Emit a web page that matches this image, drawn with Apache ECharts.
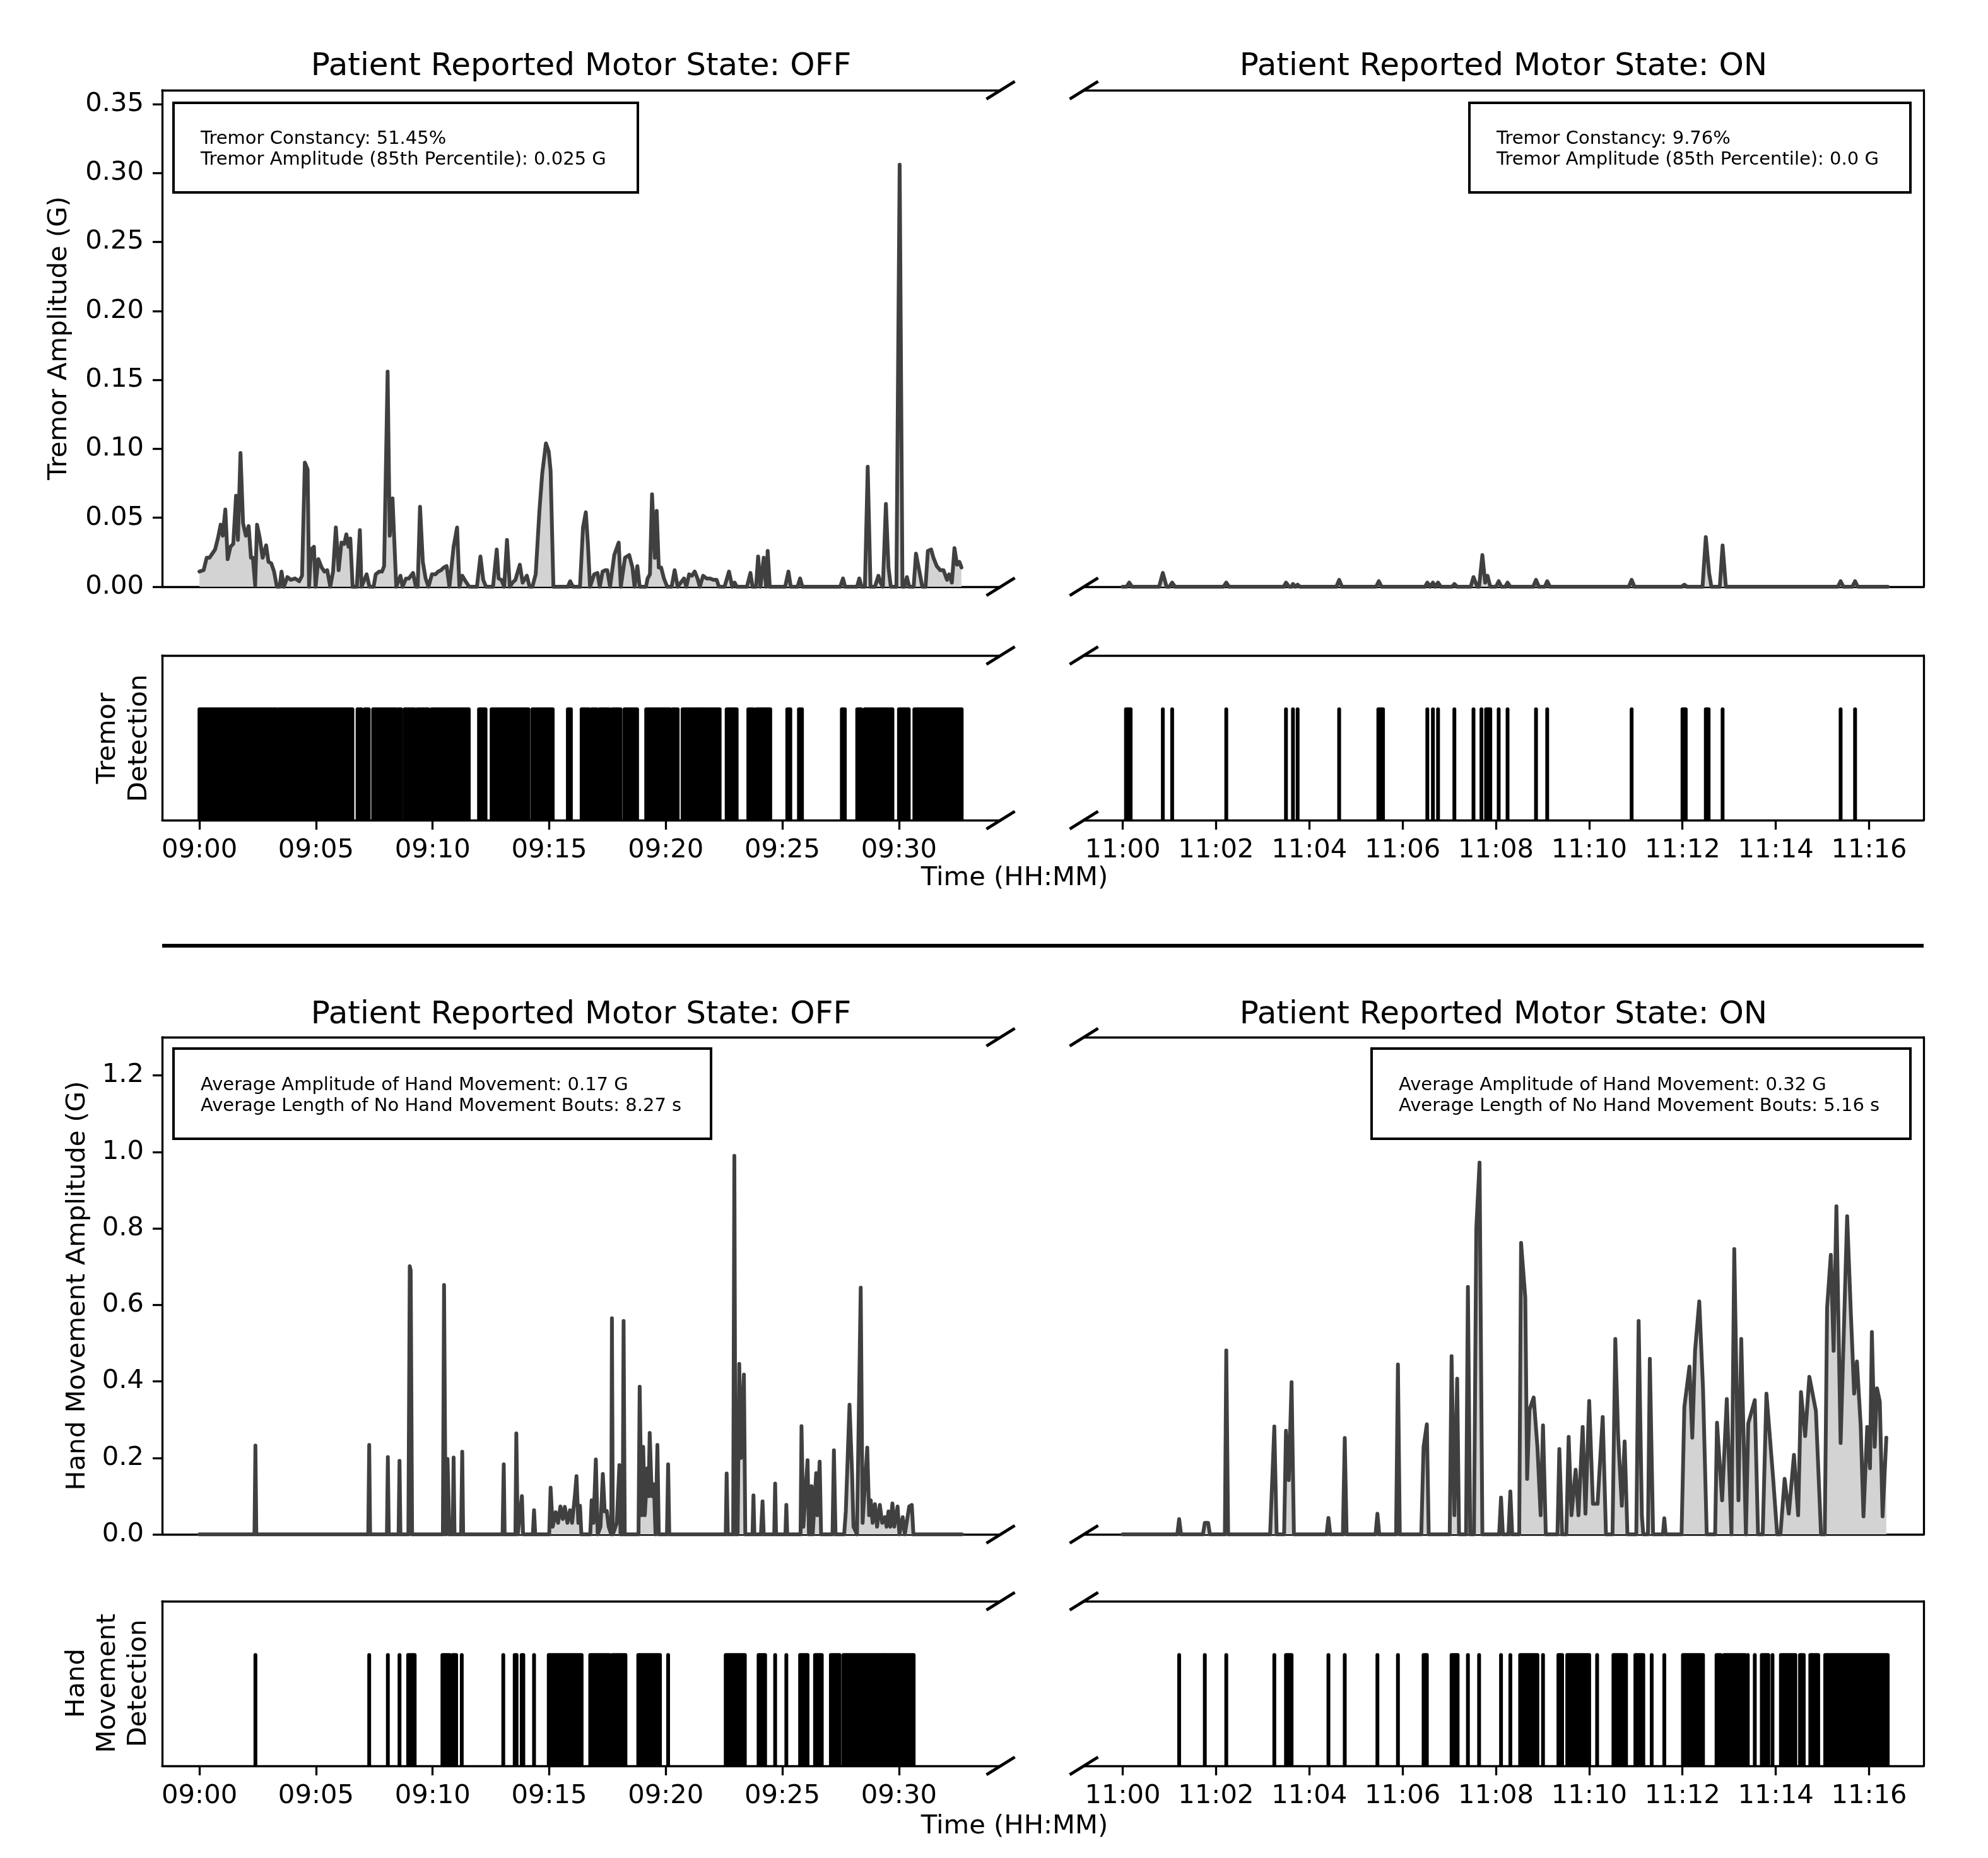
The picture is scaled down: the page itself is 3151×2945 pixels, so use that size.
<!DOCTYPE html>
<html><head><meta charset="utf-8">
<script src="https://cdn.jsdelivr.net/npm/echarts@6/dist/echarts.min.js"></script>
<style>html,body{margin:0;padding:0;background:#fff}#c{width:3151px;height:2945px}</style>
</head><body><div id="c"></div>
<script>
// ---------------- DATA ----------------
const offStart = '09:00';
const onStart = '11:00';
const offTicks = ['09:00','09:05','09:10','09:15','09:20','09:25','09:30'];
const onTicks = ['11:00','11:02','11:04','11:06','11:08','11:10','11:12','11:14','11:16'];
const tremorYTicks = ['0.00','0.05','0.10','0.15','0.20','0.25','0.30','0.35'];
const handYTicks = ['0.0','0.2','0.4','0.6','0.8','1.0','1.2'];
// tremor amplitude, OFF state: [minutes after 09:00, G]
const tremorOff = [
[0.00,0.011],[0.18,0.012],[0.31,0.021],[0.43,0.021],[0.55,0.024],[0.67,0.027],[0.79,0.035],[0.91,0.045],[1.00,0.037],[1.11,0.056],[1.21,0.020],[1.33,0.029],[1.45,0.031],[1.57,0.066],[1.65,0.034],[1.76,0.097],[1.87,0.046],[1.99,0.037],[2.11,0.044],[2.21,0.021],[2.29,0.021],[2.39,0.001],[2.47,0.045],[2.59,0.035],[2.71,0.021],[2.86,0.030],[2.96,0.018],[3.08,0.017],[3.20,0.011],[3.32,0],[3.44,0],[3.52,0.011],[3.62,0],[3.77,0.007],[3.92,0.005],[4.10,0.006],[4.28,0.004],[4.40,0.008],[4.52,0.090],[4.64,0.085],[4.70,0],[4.79,0.027],[4.91,0.029],[4.98,0],[5.10,0.020],[5.24,0.014],[5.36,0.011],[5.48,0.012],[5.61,0],[5.73,0.011],[5.85,0.043],[5.97,0.012],[6.09,0.032],[6.21,0.031],[6.30,0.038],[6.39,0.029],[6.47,0.035],[6.57,0],[6.75,0],[6.88,0.041],[6.95,0],[7.17,0.009],[7.29,0],[7.47,0],[7.56,0.009],[7.71,0.011],[7.83,0.011],[7.92,0.015],[8.07,0.156],[8.16,0.037],[8.28,0.064],[8.44,0],[8.62,0.008],[8.71,0],[8.86,0.006],[8.98,0.006],[9.16,0.010],[9.28,0],[9.36,0],[9.46,0.058],[9.58,0.018],[9.70,0.006],[9.82,0],[9.97,0.009],[10.12,0.009],[10.24,0.011],[10.36,0.012],[10.48,0.014],[10.60,0.015],[10.72,0],[10.90,0.029],[11.05,0.043],[11.15,0],[11.27,0.008],[11.45,0.003],[11.57,0],[11.90,0],[12.05,0.022],[12.17,0.005],[12.29,0],[12.59,0],[12.75,0.027],[12.83,0.006],[12.95,0.005],[13.07,0],[13.19,0.034],[13.31,0],[13.43,0.003],[13.55,0.005],[13.74,0.016],[13.86,0.003],[14.04,0.008],[14.16,0],[14.28,0],[14.42,0.009],[14.58,0.055],[14.70,0.082],[14.86,0.104],[14.98,0.098],[15.06,0.084],[15.18,0],[15.80,0],[15.90,0.004],[16.02,0],[16.32,0],[16.45,0.043],[16.57,0.054],[16.66,0.031],[16.75,0],[16.93,0.009],[17.07,0.010],[17.17,0],[17.29,0.011],[17.41,0.012],[17.49,0.012],[17.61,0],[17.79,0.023],[17.98,0.032],[18.07,0],[18.25,0.021],[18.43,0.023],[18.57,0.014],[18.66,0],[18.78,0.015],[18.88,0],[19.15,0],[19.22,0.006],[19.32,0.009],[19.41,0.067],[19.53,0.021],[19.61,0.055],[19.70,0.014],[19.80,0.014],[19.92,0.006],[20.06,0],[20.25,0],[20.38,0.012],[20.51,0],[20.78,0.006],[20.88,0],[21.00,0.009],[21.12,0.008],[21.24,0.011],[21.36,0.006],[21.46,0],[21.60,0.008],[21.75,0.006],[21.89,0.006],[22.04,0.005],[22.18,0.005],[22.28,0],[22.52,0],[22.71,0.011],[22.85,0],[22.95,0.003],[23.05,0],[23.48,0],[23.63,0.010],[23.72,0],[23.87,0],[23.96,0.022],[24.06,0],[24.20,0.021],[24.30,0],[24.37,0.026],[24.46,0],[25.12,0],[25.26,0.011],[25.36,0],[25.65,0],[25.76,0.006],[25.86,0],[27.48,0],[27.60,0.006],[27.69,0],[28.20,0],[28.30,0.006],[28.40,0],[28.54,0],[28.66,0.087],[28.78,0],[28.97,0],[29.12,0.008],[29.21,0.003],[29.31,0],[29.44,0.060],[29.55,0.014],[29.65,0],[29.89,0],[30.03,0.306],[30.15,0],[30.23,0],[30.34,0.007],[30.44,0],[30.63,0],[30.73,0.024],[30.90,0.009],[31.00,0],[31.14,0],[31.24,0.026],[31.38,0.027],[31.48,0.021],[31.62,0.015],[31.77,0.012],[31.91,0.012],[32.06,0.005],[32.15,0.009],[32.27,0.003],[32.38,0.028],[32.49,0.016],[32.59,0.018],[32.68,0.014]
];
// tremor amplitude, ON state: [minutes after 11:00, G]
const tremorOn = [
[0,0],[0.08,0],[0.14,0.003],[0.20,0],[0.78,0],[0.86,0.010],[0.94,0],[1.00,0],[1.06,0.003],[1.12,0],[2.16,0],[2.22,0.003],[2.28,0],[3.45,0],[3.50,0.003],[3.57,0],[3.62,0],[3.65,0.002],[3.70,0],[3.75,0.0015],[3.80,0],[4.58,0],[4.64,0.005],[4.70,0],[5.43,0],[5.49,0.004],[5.55,0],[6.48,0],[6.53,0.003],[6.59,0],[6.65,0.003],[6.70,0],[6.76,0.003],[6.82,0],[7.06,0],[7.11,0.002],[7.17,0],[7.46,0],[7.52,0.007],[7.60,0],[7.64,0],[7.71,0.023],[7.77,0.003],[7.82,0.008],[7.88,0],[8.00,0],[8.06,0.004],[8.12,0],[8.20,0],[8.25,0.003],[8.31,0],[8.80,0],[8.86,0.005],[8.92,0],[9.05,0],[9.10,0.004],[9.16,0],[10.85,0],[10.91,0.005],[10.97,0],[11.98,0],[12.04,0.0015],[12.10,0],[12.43,0],[12.50,0.036],[12.57,0.010],[12.62,0],[12.80,0],[12.86,0.030],[12.93,0],[15.33,0],[15.39,0.004],[15.45,0],[15.64,0],[15.70,0.004],[15.76,0],[16.40,0]
];
// hand movement amplitude, OFF state
const handOff = [
[0,0],[2.36,0],[2.40,0.232],[2.44,0],[7.24,0],[7.28,0.234],[7.32,0],[8.04,0],[8.08,0.202],[8.12,0],[8.54,0],[8.58,0.192],[8.62,0],[8.96,0],[9.02,0.701],[9.06,0.690],[9.12,0],
[10.44,0],[10.49,0.652],[10.56,0],[10.64,0.197],[10.72,0],[10.86,0],[10.90,0.201],[10.94,0],[11.22,0],[11.27,0.216],[11.31,0],[13.00,0],[13.05,0.183],[13.09,0],[13.55,0],[13.59,0.264],[13.65,0],[13.83,0.100],[13.88,0],[14.30,0],[14.35,0.063],[14.40,0],
[15.00,0],[15.06,0.122],[15.15,0.020],[15.28,0.058],[15.38,0.030],[15.48,0.073],[15.58,0.040],[15.67,0.072],[15.78,0.030],[15.89,0.063],[15.98,0.030],[16.10,0.100],[16.17,0.152],[16.25,0.030],[16.32,0.075],[16.38,0],
[16.76,0],[16.82,0.089],[16.90,0.030],[17.00,0.196],[17.08,0],[17.20,0.020],[17.30,0.158],[17.38,0.060],[17.47,0.061],[17.55,0.020],[17.66,0],[17.69,0.565],[17.73,0],[17.90,0.030],[18.01,0.181],[18.06,0],[18.15,0],[18.19,0.558],[18.24,0],
[18.83,0],[18.88,0.386],[18.96,0.050],[19.03,0.229],[19.10,0.050],[19.21,0.173],[19.26,0.100],[19.31,0.265],[19.40,0.100],[19.49,0.131],[19.56,0],[19.64,0.234],[19.70,0],[20.05,0],[20.10,0.183],[20.15,0],
[22.57,0],[22.61,0.159],[22.66,0],[22.89,0],[22.94,0.990],[22.99,0],[23.08,0],[23.15,0.446],[23.22,0.200],[23.35,0.418],[23.41,0],[23.72,0],[23.76,0.102],[23.80,0],[24.08,0],[24.15,0.086],[24.20,0],[24.65,0],[24.69,0.133],[24.73,0],[25.13,0],[25.17,0.077],[25.21,0],
[25.78,0],[25.82,0.283],[25.90,0.020],[26.08,0.194],[26.14,0],[26.20,0],[26.25,0.126],[26.30,0],[26.45,0.160],[26.50,0.050],[26.60,0.190],[26.66,0],[27.15,0],[27.21,0.220],[27.28,0],
[27.65,0],[27.72,0.060],[27.88,0.339],[27.99,0.157],[28.05,0.020],[28.20,0],[28.36,0.645],[28.44,0.030],[28.64,0.227],[28.72,0.050],[28.79,0.089],[28.87,0.030],[28.97,0.079],[29.06,0.020],[29.18,0.077],[29.28,0.030],[29.40,0.045],[29.47,0.020],[29.55,0.060],[29.63,0.020],[29.72,0.081],[29.80,0.020],[29.94,0.073],[30.02,0],[30.16,0.045],[30.25,0],[30.44,0.073],[30.55,0.077],[30.62,0],[32.70,0]
];
// hand movement amplitude, ON state
const handOn = [
[0,0],[1.17,0],[1.21,0.040],[1.25,0],[1.72,0],[1.76,0.030],[1.83,0.030],[1.87,0],[2.19,0],[2.22,0.481],[2.26,0],[3.16,0],[3.25,0.282],[3.30,0],[3.46,0],[3.50,0.271],[3.56,0.142],[3.62,0.398],[3.67,0],
[4.37,0],[4.41,0.043],[4.45,0],[4.72,0],[4.76,0.252],[4.80,0],[5.42,0],[5.46,0.054],[5.50,0],[5.86,0],[5.90,0.444],[5.94,0],[6.40,0],[6.45,0.229],[6.52,0.288],[6.56,0],
[7.01,0],[7.05,0.466],[7.11,0.050],[7.17,0.407],[7.21,0],[7.36,0],[7.40,0.647],[7.45,0],[7.53,0],[7.58,0.800],[7.65,0.972],[7.71,0],[8.07,0],[8.11,0.096],[8.15,0],[8.27,0],[8.31,0.112],[8.35,0],
[8.50,0],[8.54,0.762],[8.63,0.619],[8.67,0.145],[8.72,0.326],[8.81,0.358],[8.89,0.229],[8.96,0.050],[9.01,0.285],[9.07,0],
[9.32,0],[9.36,0.223],[9.42,0],[9.51,0],[9.56,0.255],[9.62,0.050],[9.71,0.169],[9.77,0.050],[9.86,0.281],[9.92,0.054],[10.00,0.349],[10.08,0.080],[10.18,0.080],[10.29,0.307],[10.36,0],[10.50,0],[10.56,0.511],[10.62,0.257],[10.70,0.075],[10.76,0.243],[10.82,0],
[11.01,0],[11.06,0.558],[11.13,0.047],[11.16,0],[11.26,0],[11.30,0.459],[11.37,0],[11.58,0],[11.61,0.042],[11.64,0],
[11.98,0],[12.04,0.333],[12.15,0.439],[12.21,0.253],[12.27,0.481],[12.36,0.609],[12.44,0.382],[12.52,0],
[12.70,0],[12.74,0.292],[12.85,0.089],[12.95,0.354],[13.05,0],[13.11,0.746],[13.20,0.089],[13.26,0.511],[13.36,0],[13.41,0.290],[13.55,0.351],[13.62,0],[13.72,0],[13.80,0.368],[13.94,0.152],[14.03,0],
[14.10,0],[14.19,0.145],[14.28,0.054],[14.39,0.208],[14.48,0.050],[14.54,0.372],[14.63,0.257],[14.72,0.412],[14.86,0.323],[14.97,0],
[15.05,0],[15.10,0.592],[15.18,0.731],[15.24,0.480],[15.30,0.858],[15.39,0.239],[15.53,0.832],[15.61,0.577],[15.68,0.368],[15.74,0.452],[15.82,0.285],[15.88,0.047],[15.96,0.281],[16.02,0.173],[16.06,0.529],[16.12,0.229],[16.17,0.382],[16.23,0.347],[16.29,0.047],[16.37,0.253]
];
// detection episodes [start, end] in minutes after session start
const tremorDetOff = [[0,3.31],[3.40,6.56],[6.78,6.95],[7.09,7.26],[7.45,8.43],[8.52,8.65],[8.80,9.23],[9.34,9.82],[9.95,10.55],[10.62,11.55],[11.99,12.27],[12.53,13.30],[13.36,14.11],[14.28,15.15],[15.80,15.93],[16.39,16.71],[16.82,17.04],[17.15,17.58],[17.69,18.06],[18.23,18.77],[19.16,19.60],[19.66,20.18],[20.29,20.51],[20.72,21.48],[21.53,22.31],[22.61,23.04],[23.54,23.76],[23.87,24.04],[24.09,24.48],[25.21,25.34],[25.71,25.84],[27.55,27.68],[28.21,28.38],[28.53,28.90],[28.96,29.72],[30.00,30.16],[30.22,30.42],[30.66,31.07],[31.13,32.69]];
const tremorDetOn = [[0.07,0.17],[0.86,0.86],[1.06,1.06],[2.22,2.22],[3.50,3.50],[3.65,3.65],[3.75,3.75],[4.64,4.64],[5.48,5.58],[6.53,6.53],[6.65,6.65],[6.76,6.76],[7.11,7.11],[7.52,7.52],[7.69,7.69],[7.79,7.88],[8.06,8.06],[8.25,8.25],[8.86,8.86],[9.10,9.10],[10.91,10.91],[12.00,12.07],[12.50,12.56],[12.86,12.86],[15.39,15.39],[15.70,15.70]];
const handDetOff = [[2.40,2.40],[7.28,7.28],[8.08,8.08],[8.58,8.58],[8.95,9.23],[10.42,10.60],[10.66,10.74],[10.86,11.01],[11.25,11.25],[13.03,13.03],[13.52,13.60],[13.82,13.89],[14.35,14.35],[14.98,16.39],[16.76,17.58],[17.69,18.27],[18.82,19.75],[20.10,20.10],[22.57,23.39],[23.98,24.26],[24.69,24.69],[25.17,25.17],[25.76,26.08],[26.40,26.69],[27.08,27.45],[27.62,29.29],[29.33,29.66],[29.72,29.94],[30.00,30.20],[30.27,30.63]];
const handDetOn = [[1.21,1.21],[1.76,1.76],[2.22,2.22],[3.25,3.25],[3.50,3.62],[4.41,4.41],[4.76,4.76],[5.46,5.46],[5.90,5.90],[6.45,6.52],[7.05,7.18],[7.40,7.40],[7.64,7.64],[8.11,8.11],[8.31,8.31],[8.52,8.89],[9.01,9.01],[9.34,9.42],[9.53,10.00],[10.17,10.17],[10.52,10.79],[10.99,11.16],[11.34,11.34],[11.61,11.61],[12.01,12.44],[12.73,12.82],[12.89,13.34],[13.40,13.40],[13.55,13.55],[13.70,13.84],[13.93,13.93],[14.11,14.42],[14.52,14.60],[14.74,14.91],[15.06,15.88],[15.91,16.40]];

// ---------------- CHART ----------------
function hm(s){var p=s.split(':');return (+p[0])*60+(+p[1]);}
function pad(n){return (n<10?'0':'')+n;}
function fmt(v){var t=Math.round(v);var h=Math.floor(t/60);return pad(h)+':'+pad(t-h*60);}
var FONT='"DejaVu Sans", "Liberation Sans", sans-serif';
var AX={color:'#000',width:3.3};
var offS=hm(offStart), onS=hm(onStart);
var XR={L:[offS-1.60, offS+34.36], R:[onS-0.832, onS+17.17]};
var COL={L:{left:257,width:1329}, R:{left:1718,width:1331}};
var ROW={tremor:{top:143,height:787}, tdet:{top:1039,height:261}, hand:{top:1644,height:788}, hdet:{top:2538,height:261}};

var grids=[],xAxes=[],yAxes=[],series=[];
function panel(side,kind){
  var gi=grids.length;
  grids.push({left:COL[side].left,width:COL[side].width,top:ROW[kind].top,height:ROW[kind].height,containLabel:false});
  var isL=side==='L', isDet=(kind==='tdet'||kind==='hdet');
  var ticks=(isL?offTicks:onTicks).map(hm);
  var xi=xAxes.length;
  xAxes.push({gridIndex:gi,type:'value',position:'bottom',min:XR[side][0],max:XR[side][1],
    axisLine:{show:true,onZero:false,lineStyle:AX},
    axisTick:{show:isDet,customValues:ticks,length:15,lineStyle:AX},
    axisLabel:{show:isDet,customValues:ticks,formatter:fmt,fontSize:41.7,fontFamily:FONT,color:'#000',margin:27},
    splitLine:{show:false}});
  xAxes.push({gridIndex:gi,type:'value',position:'top',min:XR[side][0],max:XR[side][1],
    axisLine:{show:true,onZero:false,lineStyle:AX},axisTick:{show:false},axisLabel:{show:false},splitLine:{show:false}});
  var yi=yAxes.length;
  var yt=null,ymax=1.46;
  if(kind==='tremor'){yt=tremorYTicks;ymax=0.36;}
  if(kind==='hand'){yt=handYTicks;ymax=1.3;}
  var showLab=isL&&!!yt;
  var yv=yt?yt.map(parseFloat):[];
  yAxes.push({gridIndex:gi,type:'value',position:isL?'left':'right',min:0,max:ymax,
    axisLine:{show:true,onZero:false,lineStyle:AX},
    axisTick:{show:showLab,customValues:yv,length:15,lineStyle:AX},
    axisLabel:{show:showLab,customValues:yv,formatter:function(v){var i=yv.indexOf(v);return i>=0?yt[i]:String(v);},fontSize:41.7,fontFamily:FONT,color:'#000',margin:29},
    splitLine:{show:false}});
  return {xi:xi,yi:yi,base:isL?offS:onS};
}
function lineSeries(p,data){
  series.push({type:'line',xAxisIndex:p.xi,yAxisIndex:p.yi,data:data.map(function(d){return [p.base+d[0],d[1]];}),
    showSymbol:false,symbol:'none',animation:false,silent:true,z:2,
    lineStyle:{color:'#404040',width:6,join:'round',cap:'round'},
    areaStyle:{color:'#d3d3d3',opacity:1}});
}
function detRender(params,api){
  var a=api.coord([api.value(0),0]);
  var b=api.coord([api.value(1),api.value(2)]);
  var x0=a[0]-3,x1=b[0]+3;
  return {type:'rect',shape:{x:x0,y:b[1],width:x1-x0,height:a[1]-b[1],r:[3,3,0,0]},style:{fill:'#000'}};
}
function detSeries(p,data){
  series.push({type:'custom',xAxisIndex:p.xi,yAxisIndex:p.yi,renderItem:detRender,animation:false,silent:true,
    encode:{x:[0,1],y:2},data:data.map(function(d){return [p.base+d[0],p.base+d[1],1];})});
}
lineSeries(panel('L','tremor'),tremorOff);
lineSeries(panel('R','tremor'),tremorOn);
detSeries(panel('L','tdet'),tremorDetOff);
detSeries(panel('R','tdet'),tremorDetOn);
lineSeries(panel('L','hand'),handOff);
lineSeries(panel('R','hand'),handOn);
detSeries(panel('L','hdet'),handDetOff);
detSeries(panel('R','hdet'),handDetOn);

var G=[];
function txt(x,y,s,size,opt){
  opt=opt||{};
  G.push({type:'text',x:x,y:y,rotation:opt.rot||0,z:100,
    style:{text:s,fontSize:size,fontFamily:FONT,fill:'#000',
      textAlign:opt.align||'center',align:opt.align||'center',
      textVerticalAlign:'middle',verticalAlign:'middle',lineHeight:opt.lh||size*1.2}});
}
txt(921,106,'Patient Reported Motor State: OFF',50);
txt(2383,106,'Patient Reported Motor State: ON',50);
txt(921,1609,'Patient Reported Motor State: OFF',50);
txt(2383,1609,'Patient Reported Motor State: ON',50);
txt(1608,1392,'Time (HH:MM)',41.7);
txt(1608,2895,'Time (HH:MM)',41.7);
txt(94,536,'Tremor Amplitude (G)',41.7,{rot:Math.PI/2});
txt(196,1170,'Tremor\nDetection',41.7,{rot:Math.PI/2,lh:50});
txt(123,2038,'Hand Movement Amplitude (G)',41.7,{rot:Math.PI/2});
txt(171,2668,'Hand\nMovement\nDetection',41.7,{rot:Math.PI/2,lh:49});
function box(x,y,w,h,s){
  G.push({type:'rect',z:90,shape:{x:x,y:y,width:w,height:h},style:{fill:'#fff',stroke:'#000',lineWidth:4}});
  txt(x+43,y+h/2+3,s,29,{align:'left',lh:33});
}
box(275,163,736,142,'Tremor Constancy: 51.45%\nTremor Amplitude (85th Percentile): 0.025 G');
box(2329,163,699,142,'Tremor Constancy: 9.76%\nTremor Amplitude (85th Percentile): 0.0 G');
box(275,1662,852,143,'Average Amplitude of Hand Movement: 0.17 G\nAverage Length of No Hand Movement Bouts: 8.27 s');
box(2174,1662,854,143,'Average Amplitude of Hand Movement: 0.32 G\nAverage Length of No Hand Movement Bouts: 5.16 s');
[143,930,1039,1300,1644,2432,2538,2799].forEach(function(cy){
  [1586,1718].forEach(function(cx){
    G.push({type:'line',z:100,shape:{x1:cx-22.5,y1:cy+14,x2:cx+22.5,y2:cy-14},style:{stroke:'#000',lineWidth:5}});
  });
});
G.push({type:'line',z:100,shape:{x1:257,y1:1499,x2:3049,y2:1499},style:{stroke:'#000',lineWidth:6}});

var chart=echarts.init(document.getElementById('c'),null,{renderer:'canvas',width:3151,height:2945});
chart.setOption({animation:false,backgroundColor:'#fff',grid:grids,xAxis:xAxes,yAxis:yAxes,series:series,graphic:{elements:G}});
</script></body></html>
